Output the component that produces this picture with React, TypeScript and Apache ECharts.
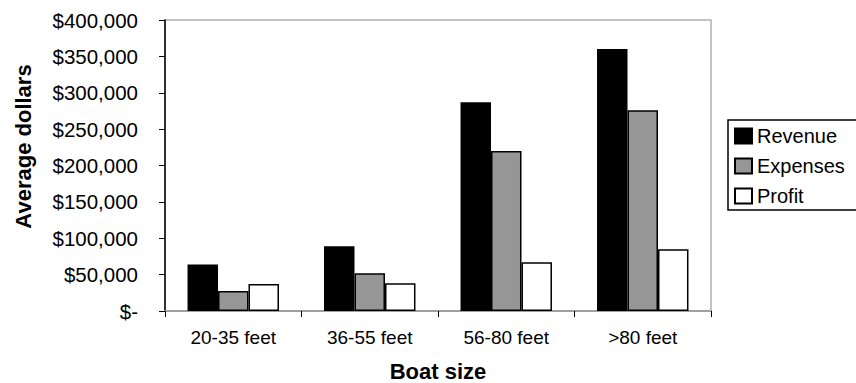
import React, { useEffect, useRef } from "react";
import * as echarts from "echarts";

const boatSizes = ["20-35 feet", "36-55 feet", "56-80 feet", ">80 feet"];
const revenue = [64000, 89000, 287000, 360000];
const expenses = [27500, 52000, 220000, 276000];
const profit = [37000, 38000, 67000, 85000];

const FONT = "'Liberation Sans', Arial, Helvetica, sans-serif";

function formatDollars(v: number): string {
  if (v === 0) return "$-";
  return "$" + v.toLocaleString("en-US");
}

export default function App() {
  const ref = useRef<HTMLDivElement>(null);

  useEffect(() => {
    if (!ref.current) return;
    const chart = echarts.init(ref.current, undefined, { renderer: "svg" });
    const barStyle = (color: string) => ({
      color,
      borderColor: "#000",
      borderWidth: 1.5,
    });
    chart.setOption({
      animation: false,
      backgroundColor: "#fff",
      textStyle: { fontFamily: FONT, color: "#000" },
      grid: {
        left: 165,
        right: 145,
        top: 20,
        bottom: 72,
        containLabel: false,
        outerBoundsMode: "none",
        show: true,
        borderColor: "#b0b0b0",
        borderWidth: 1.5,
        backgroundColor: "#fff",
      },
      legend: {
        orient: "vertical",
        left: 728,
        top: 120,
        padding: [6, 60, 4, 6],
        borderColor: "#000",
        borderWidth: 1.5,
        itemWidth: 17,
        itemHeight: 15,
        itemGap: 10,
        icon: "rect",
        textStyle: { fontFamily: FONT, fontSize: 20, color: "#000" },
        data: ["Revenue", "Expenses", "Profit"],
      },
      graphic: [
        {
          type: "text",
          x: 23,
          y: 146.5,
          rotation: Math.PI / 2,
          style: {
            text: "Average dollars",
            fontFamily: FONT,
            fontSize: 22,
            fontWeight: "bold",
            fill: "#000",
            align: "center",
            verticalAlign: "middle",
          },
        },
      ],
      xAxis: {
        type: "category",
        data: boatSizes,
        name: "Boat size",
        nameLocation: "middle",
        nameGap: 49,
        nameTextStyle: { fontFamily: FONT, fontSize: 22, fontWeight: "bold", color: "#000" },
        axisLine: { lineStyle: { color: "#a0a0a0", width: 2 } },
        axisTick: { show: true, length: 6, alignWithLabel: false, lineStyle: { color: "#000", width: 1 } },
        axisLabel: { fontFamily: FONT, fontSize: 19, color: "#000", margin: 17 },
        splitLine: { show: false },
      },
      yAxis: {
        type: "value",
        min: 0,
        max: 400000,
        interval: 50000,
        axisLine: { show: true, lineStyle: { color: "#000", width: 1.5 } },
        axisTick: { show: true, length: 6, lineStyle: { color: "#000", width: 1 } },
        axisLabel: {
          fontFamily: FONT,
          fontSize: 20.5,
          color: "#000",
          margin: 27,
          formatter: (v: number) => formatDollars(v),
        },
        splitLine: { show: false },
      },
      series: [
        {
          name: "Revenue",
          type: "bar",
          data: revenue,
          barCategoryGap: "33%",
          barGap: "0%",
          itemStyle: barStyle("#000"),
        },
        {
          name: "Expenses",
          type: "bar",
          data: expenses,
          barGap: "0%",
          itemStyle: barStyle("#969696"),
        },
        {
          name: "Profit",
          type: "bar",
          data: profit,
          barGap: "0%",
          itemStyle: barStyle("#fff"),
        },
      ],
    });
    return () => chart.dispose();
  }, []);

  return (
    <div
      ref={ref}
      style={{ position: "fixed", left: 0, top: 0, width: 856, height: 383 }}
    />
  );
}
